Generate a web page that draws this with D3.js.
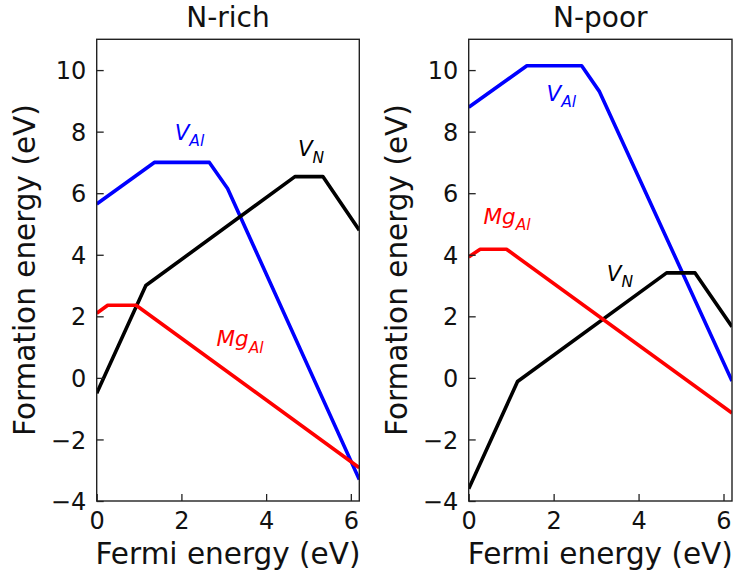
<!DOCTYPE html>
<html>
<head>
<meta charset="utf-8">
<script src="https://cdn.jsdelivr.net/npm/d3@7"></script>
<style>
  body { margin: 0; background: #fff; }
  svg { display: block; font-family: "DejaVu Sans", sans-serif; }
</style>
</head>
<body>
<div id="chart"></div>
<script>
// Panel titles and axes
const panelTitles = ["N-rich", "N-poor"];
const xDomain = [0, 6.2];
const yDomain = [-4, 11];
const xTicks = [0, 2, 4, 6];
const yTicks = [-4, -2, 0, 2, 4, 6, 8, 10];

// Formation energy vs Fermi energy, [fermi, energy] corners
const vAlRich = [[0, 5.65], [1.36, 7.0], [2.66, 7.0], [3.09, 6.15], [6.2, -3.3]];
const vNRich = [[0, -0.5], [1.16, 3.0], [4.68, 6.54], [5.34, 6.54], [6.2, 4.8]];
const mgAlRich = [[0, 2.1], [0.26, 2.36], [0.93, 2.36], [6.2, -2.92]];

const vAlPoor = [[0, 8.79], [1.37, 10.14], [2.66, 10.14], [3.08, 9.3], [6.2, -0.1]];
const vNPoor = [[0, -3.6], [1.15, -0.12], [4.66, 3.41], [5.33, 3.41], [6.2, 1.66]];
const mgAlPoor = [[0, 3.93], [0.27, 4.18], [0.89, 4.18], [6.2, -1.14]];

// defect label text: main letter + subscript, anchored at data coords
const richLabels = [
  { main: "V", sub: "Al", x: 1.84, y: 7.73, color: "blue" },
  { main: "V", sub: "N", x: 4.75, y: 7.2, color: "black" },
  { main: "Mg", sub: "Al", x: 2.83, y: 1.02, color: "red" }
];
const poorLabels = [
  { main: "V", sub: "Al", x: 1.83, y: 9.0, color: "blue" },
  { main: "Mg", sub: "Al", x: 0.35, y: 5.0, color: "red" },
  { main: "V", sub: "N", x: 3.25, y: 3.15, color: "black" }
];

const panels = [
  { title: panelTitles[0], left: 96.7, right: 359.3,
    series: [
      { data: vAlRich, color: "blue" },
      { data: vNRich, color: "black" },
      { data: mgAlRich, color: "red" }
    ],
    labels: richLabels },
  { title: panelTitles[1], left: 468.7, right: 732,
    series: [
      { data: vAlPoor, color: "blue" },
      { data: vNPoor, color: "black" },
      { data: mgAlPoor, color: "red" }
    ],
    labels: poorLabels }
];

const width = 736, height = 575;
const plotTop = 39.3, plotBottom = 501;

const svg = d3.select("#chart")
  .append("svg")
  .attr("width", width)
  .attr("height", height);

panels.forEach((p, i) => {
  const x = d3.scaleLinear().domain(xDomain).range([p.left, p.right]);
  const y = d3.scaleLinear().domain(yDomain).range([plotBottom, plotTop]);
  const g = svg.append("g");

  const clipId = "clip" + i;
  svg.append("clipPath").attr("id", clipId)
    .append("rect")
    .attr("x", p.left).attr("y", plotTop)
    .attr("width", p.right - p.left).attr("height", plotBottom - plotTop);

  const line = d3.line()
    .x(d => x(d[0]))
    .y(d => y(d[1]));

  g.append("g")
    .attr("clip-path", `url(#${clipId})`)
    .selectAll("path")
    .data(p.series)
    .join("path")
    .attr("d", d => line(d.data))
    .attr("fill", "none")
    .attr("stroke", d => d.color)
    .attr("stroke-width", 3.6)
    .attr("stroke-linejoin", "round");

  // labels
  p.labels.forEach(l => {
    const t = g.append("text")
      .attr("x", x(l.x))
      .attr("y", y(l.y))
      .attr("fill", l.color)
      .attr("font-style", "italic")
      .attr("font-size", 21.5);
    t.append("tspan").text(l.main);
    t.append("tspan")
      .attr("font-size", 15.5)
      .attr("dy", 6.5)
      .text(l.sub);
  });

  // axes with inward ticks
  const fmt = d => d < 0 ? "\u2212" + Math.abs(d) : String(d);
  const xAxis = g.append("g")
    .attr("transform", `translate(0,${plotBottom})`)
    .call(d3.axisBottom(x).tickValues(xTicks).tickFormat(fmt).tickSizeInner(-7).tickSizeOuter(0).tickPadding(0));
  xAxis.select(".domain").remove();
  xAxis.selectAll(".tick line").attr("stroke", "#222").attr("stroke-width", 1.3);
  xAxis.selectAll(".tick text")
    .attr("y", 27.5)
    .attr("dy", null)
    .attr("fill", "#111")
    .attr("font-size", 24)
    .attr("font-family", "DejaVu Sans");

  const yAxis = g.append("g")
    .attr("transform", `translate(${p.left},0)`)
    .call(d3.axisLeft(y).tickValues(yTicks).tickFormat(fmt).tickSizeInner(-7).tickSizeOuter(0).tickPadding(0));
  yAxis.select(".domain").remove();
  yAxis.selectAll(".tick line").attr("stroke", "#222").attr("stroke-width", 1.3);
  yAxis.selectAll(".tick text")
    .attr("x", -10.5)
    .attr("dy", "0.36em")
    .attr("fill", "#111")
    .attr("font-size", 24)
    .attr("font-family", "DejaVu Sans");

  // frame
  g.append("rect")
    .attr("x", p.left).attr("y", plotTop)
    .attr("width", p.right - p.left).attr("height", plotBottom - plotTop)
    .attr("fill", "none")
    .attr("stroke", "#222")
    .attr("stroke-width", 1.4);

  // title and axis labels
  const cx = (p.left + p.right) / 2;
  g.append("text")
    .attr("x", cx).attr("y", 27)
    .attr("text-anchor", "middle")
    .attr("font-size", 28)
    .attr("fill", "#111")
    .text(p.title);

  g.append("text")
    .attr("x", cx).attr("y", 564)
    .attr("text-anchor", "middle")
    .attr("font-size", 29.5)
    .attr("fill", "#111")
    .text("Fermi energy (eV)");

  g.append("text")
    .attr("transform", `translate(${p.left - 61.7},${(plotTop + plotBottom) / 2}) rotate(-90)`)
    .attr("text-anchor", "middle")
    .attr("font-size", 29.5)
    .attr("fill", "#111")
    .text("Formation energy (eV)");
});
</script>
</body>
</html>
